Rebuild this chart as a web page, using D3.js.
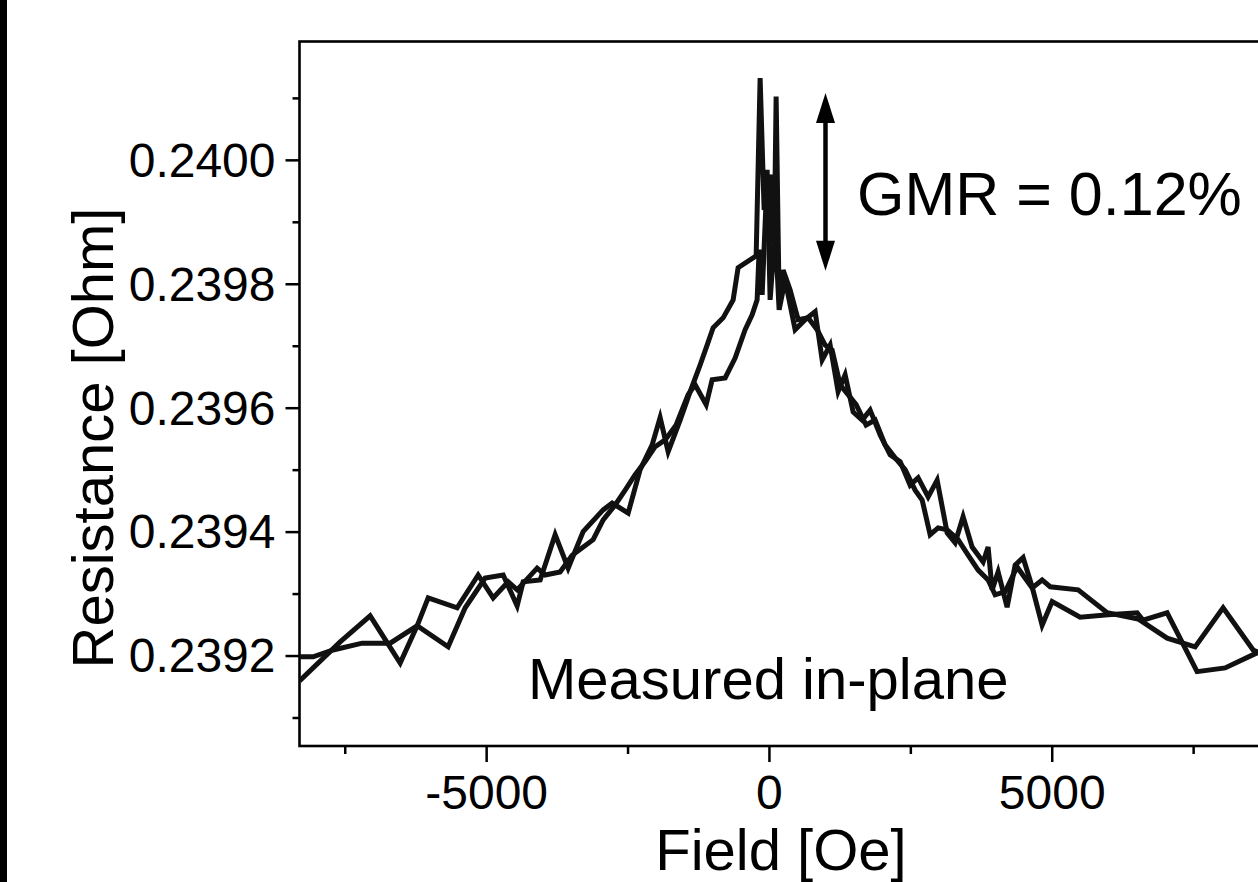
<!DOCTYPE html>
<html>
<head>
<meta charset="utf-8">
<script src="https://cdn.jsdelivr.net/npm/d3@7"></script>
<style>
  body { margin: 0; background: #fff; }
  svg { display: block; font-family: "Liberation Sans", Arial, sans-serif; }
</style>
</head>
<body>
<div id="chart"></div>
<script>
// sweep 1 (field in Oe, resistance in Ohm)
const field1 = [-8300, -8060, -7705, -7192, -6697, -6220, -5672, -5371, -5018, -4699, -4452, -4346, -4045, -3780, -3550, -3285, -2931, -2772, -2489, -2277, -2065, -1924, -1782, -1570, -1393, -1216, -1093, -987, -810, -633, -545, -226, -156, -85, -32, 21, 110, 180, 286, 463, 640, 817, 941, 1082, 1223, 1347, 1489, 1648, 1789, 1966, 2143, 2320, 2496, 2638, 2815, 2974, 3151, 3292, 3433, 3593, 3787, 3875, 3946, 4052, 4211, 4353, 4494, 4653, 4830, 5007, 5502, 5997, 6510, 6616, 7040, 7570, 8066, 8737];
const res1 = [0.239198, 0.239198, 0.239209, 0.239220, 0.239220, 0.239248, 0.239214, 0.239277, 0.239325, 0.239330, 0.239280, 0.239319, 0.239322, 0.239395, 0.239341, 0.239400, 0.239435, 0.239446, 0.239430, 0.239500, 0.239540, 0.239584, 0.239529, 0.239580, 0.239626, 0.239669, 0.239701, 0.239729, 0.239745, 0.239774, 0.239826, 0.239845, 0.240132, 0.239919, 0.239984, 0.239774, 0.239887, 0.239758, 0.239806, 0.239726, 0.239742, 0.239755, 0.239677, 0.239701, 0.239626, 0.239653, 0.239593, 0.239580, 0.239596, 0.239556, 0.239524, 0.239513, 0.239475, 0.239487, 0.239456, 0.239483, 0.239398, 0.239382, 0.239424, 0.239375, 0.239351, 0.239375, 0.239306, 0.239335, 0.239278, 0.239346, 0.239358, 0.239311, 0.239249, 0.239287, 0.239262, 0.239266, 0.239269, 0.239257, 0.239269, 0.239174, 0.239180, 0.239209];

// sweep 2
const field2 = [-8300, -7581, -7051, -6520, -6220, -6025, -5513, -5141, -4876, -4611, -4452, -4098, -3957, -3692, -3479, -3108, -2931, -2719, -2542, -2366, -2189, -2012, -1835, -1641, -1429, -1305, -1110, -1004, -774, -598, -421, -297, -209, -173, -120, -50, 21, 92, 127, 180, 251, 375, 516, 693, 852, 994, 1117, 1259, 1400, 1542, 1718, 1878, 2054, 2231, 2408, 2585, 2709, 2850, 2991, 3151, 3345, 3522, 3699, 3875, 3999, 4176, 4388, 4653, 4830, 4972, 5467, 5979, 6527, 7040, 7535, 8030, 8561, 8737];
const res2 = [0.239159, 0.239222, 0.239264, 0.239188, 0.239248, 0.239293, 0.239277, 0.239330, 0.239293, 0.239319, 0.239306, 0.239341, 0.239330, 0.239335, 0.239362, 0.239387, 0.239419, 0.239443, 0.239467, 0.239492, 0.239513, 0.239537, 0.239548, 0.239572, 0.239621, 0.239637, 0.239605, 0.239645, 0.239648, 0.239680, 0.239726, 0.239750, 0.239774, 0.239855, 0.239782, 0.239935, 0.239976, 0.239847, 0.240102, 0.239774, 0.239822, 0.239790, 0.239742, 0.239745, 0.239726, 0.239701, 0.239693, 0.239637, 0.239621, 0.239605, 0.239572, 0.239580, 0.239540, 0.239519, 0.239500, 0.239467, 0.239451, 0.239395, 0.239406, 0.239403, 0.239387, 0.239362, 0.239338, 0.239322, 0.239298, 0.239303, 0.239343, 0.239309, 0.239322, 0.239311, 0.239306, 0.239269, 0.239259, 0.239228, 0.239214, 0.239277, 0.239209, 0.239201];

const xMajor = [-5000, 0, 5000];
const xMinor = [-7500, -2500, 2500, 7500];
const yMajor = [0.2392, 0.2394, 0.2396, 0.2398, 0.2400];
const yMinor = [0.2391, 0.2393, 0.2395, 0.2397, 0.2399, 0.2401];

// GMR arrow (field, resistance at both tips)
const arrowField = 1000;
const arrowRes = [0.240108, 0.239821];

const width = 1258;
const height = 882;
const plot = { left: 299.5, top: 41.5, right: 1262.7, bottom: 746 };

const svg = d3.select('#chart')
    .append('svg')
    .attr('width', width)
    .attr('height', height);

svg.append('rect').attr('width', width).attr('height', height).attr('fill', '#fff');
// dark strip on the left edge
svg.append('rect').attr('x', 0).attr('y', 0).attr('width', 7).attr('height', height).attr('fill', '#000');

const xScale = d3.scaleLinear().domain([-8300, 8730]).range([plot.left, plot.right]);
const yScale = d3.scaleLinear().domain([0.239054, 0.240191]).range([plot.bottom, plot.top]);

// minor ticks first, then major
svg.append('g')
    .attr('transform', `translate(0, ${plot.bottom})`)
    .call(d3.axisBottom(xScale).tickValues(xMinor).tickSize(8).tickSizeOuter(0).tickFormat(''));
svg.append('g')
    .attr('class', 'xmajor')
    .attr('transform', `translate(0, ${plot.bottom})`)
    .call(d3.axisBottom(xScale).tickValues(xMajor).tickSize(16).tickPadding(13).tickSizeOuter(0).tickFormat(d3.format('d')));

svg.append('g')
    .attr('transform', `translate(${plot.left}, 0)`)
    .call(d3.axisLeft(yScale).tickValues(yMinor).tickSize(7).tickSizeOuter(0).tickFormat(''));
svg.append('g')
    .attr('class', 'ymajor')
    .attr('transform', `translate(${plot.left}, 0)`)
    .call(d3.axisLeft(yScale).tickValues(yMajor).tickSize(14).tickPadding(10).tickSizeOuter(0).tickFormat(d3.format('.4f')));

svg.selectAll('.tick line').attr('stroke', '#000').attr('stroke-width', 2.5);
svg.selectAll('.domain').remove();
svg.selectAll('.tick text')
    .attr('fill', '#000')
    .style('font-size', '48px')
    .style('font-family', '"Liberation Sans", Arial, sans-serif');
svg.selectAll('.ymajor .tick text').attr('dy', '0.34em');
svg.selectAll('.xmajor .tick text').text((d) => (d < 0 ? '-' : '') + Math.abs(d));

// frame
svg.append('rect')
    .attr('x', plot.left)
    .attr('y', plot.top)
    .attr('width', plot.right - plot.left)
    .attr('height', plot.bottom - plot.top)
    .attr('fill', 'none')
    .attr('stroke', '#000')
    .attr('stroke-width', 2.6);

svg.append('clipPath').attr('id', 'clip')
    .append('rect')
    .attr('x', plot.left)
    .attr('y', plot.top)
    .attr('width', plot.right - plot.left)
    .attr('height', plot.bottom - plot.top);

const line = d3.line()
    .x((d) => xScale(d[0]))
    .y((d) => yScale(d[1]));

const sweeps = [d3.zip(field1, res1), d3.zip(field2, res2)];

svg.append('g')
    .attr('clip-path', 'url(#clip)')
    .selectAll('path')
    .data(sweeps)
    .join('path')
    .attr('d', line)
    .attr('fill', 'none')
    .attr('stroke', '#111')
    .attr('stroke-width', 5)
    .attr('stroke-linejoin', 'miter');

// double-headed arrow
const ax = xScale(arrowField);
const yTop = yScale(arrowRes[0]);
const yBot = yScale(arrowRes[1]);
const headW = 9.5, headH = 30;
svg.append('line')
    .attr('x1', ax).attr('x2', ax)
    .attr('y1', yTop + headH - 2).attr('y2', yBot - headH + 2)
    .attr('stroke', '#000')
    .attr('stroke-width', 4.5);
svg.append('path')
    .attr('d', `M${ax},${yTop} L${ax + headW},${yTop + headH} L${ax - headW},${yTop + headH} Z`)
    .attr('fill', '#000');
svg.append('path')
    .attr('d', `M${ax},${yBot} L${ax + headW},${yBot - headH} L${ax - headW},${yBot - headH} Z`)
    .attr('fill', '#000');

// labels
svg.append('text')
    .attr('x', 857)
    .attr('y', 215)
    .style('font-size', '61px')
    .text('GMR = 0.12%');

svg.append('text')
    .attr('x', 528)
    .attr('y', 699)
    .style('font-size', '58px')
    .text('Measured in-plane');

svg.append('text')
    .attr('x', 781)
    .attr('y', 870)
    .attr('text-anchor', 'middle')
    .style('font-size', '58px')
    .text('Field [Oe]');

svg.append('text')
    .attr('transform', 'translate(113, 438) rotate(-90)')
    .attr('text-anchor', 'middle')
    .style('font-size', '58px')
    .text('Resistance [Ohm]');
</script>
</body>
</html>
